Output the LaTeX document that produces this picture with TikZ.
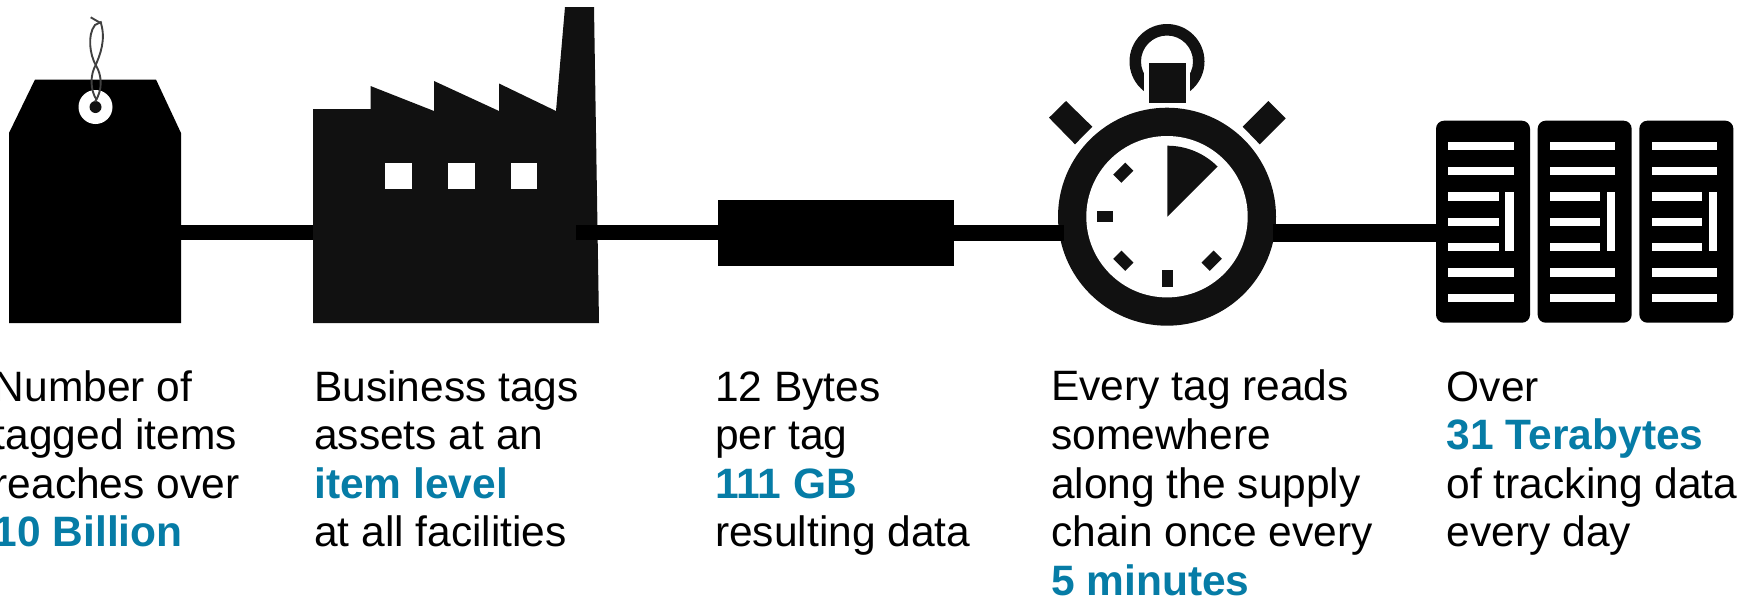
\documentclass[tikz,border=0pt]{standalone}
\usepackage{fontspec}
\setmainfont{Liberation Sans}
\definecolor{inkA}{HTML}{000000}
\definecolor{inkB}{HTML}{111111}
\definecolor{tealhl}{HTML}{067CA6}
\newcommand{\hl}[1]{\textcolor{tealhl}{\textbf{#1}}}
\tikzset{
  caption/.style={anchor=base west,align=left,inner sep=0pt,font=\fontsize{42.5}{48.6}\selectfont},
  databox/.style={fill=inkA,draw=none,inner sep=0pt,minimum width=236pt,minimum height=66pt,shape=rectangle},
  tick/.style={fill=inkB,draw=none,minimum width=17pt,minimum height=11.6pt,inner sep=0pt,shape=rectangle},
  link/.style={draw=inkA,line cap=butt},
  twine/.style={draw=black!75,line width=1.9pt},
}
\begin{document}
\begin{tikzpicture}[x=1pt,y=-1pt]
\useasboundingbox (0,0) rectangle (1748,598);
% anchors for connectors
\coordinate (tagE) at (181,232.5);
\coordinate (factW) at (313,232.5);
\coordinate (factE) at (576,232.5);
\coordinate (boxW) at (718,232.5);
\coordinate (boxE) at (954,232.8);
\coordinate (watchW) at (1064,232.8);
\coordinate (watchE) at (1273,233.2);
\coordinate (rackW) at (1437,233.2);
% tag
\fill[inkA] (9,323) -- (9,133) -- (35,79.5) -- (156,79.5) -- (181,133) -- (181,323) -- cycle;
\fill[white] (95.5,107) circle (17);
\fill[inkB] (95.5,107) circle (6);
\draw[twine] (90.7,17.3) -- (101,23.3) .. controls (106,40) and (100,55) .. (95.7,65) .. controls (90,75) and (90,90) .. (96.7,100);
\draw[twine] (101.7,21.7) -- (95,25) .. controls (87,35) and (90,55) .. (95.7,65) .. controls (102,75) and (103,90) .. (95,101.7);
% factory
\fill[inkB] (313,109) -- (370.5,109) -- (370.5,86) -- (434,111) -- (434,81) -- (499,111) -- (499,83.5) -- (556,111) -- (565,7) -- (594,7) -- (599,323) -- (313,323) -- cycle;
\foreach \wx in {385.3,448,510.7}
  \fill[white] (\wx,163) rectangle ++(26.7,26.3);
% data box
\node[databox] (box) at (836,233) {};
% stopwatch
\fill[inkB,even odd rule] (1167,61.5) circle (37.5) (1167,61.5) circle (26);
\fill[white] (1144.3,60) rectangle (1190,95);
\fill[inkB] (1149,63) rectangle (1186,103);
\fill[inkB] (1066,101) -- (1092.3,126.7) -- (1075,144.3) -- (1049,117.7) -- cycle;
\fill[inkB] (1268.3,101) -- (1285.7,118.3) -- (1259.7,144.3) -- (1242.7,126.7) -- cycle;
\fill[inkB] (1167,216.7) circle (109);
\fill[white] (1167,216.7) circle (80.7);
\fill[inkB] (1167.3,216.7) -- (1167.3,145.7) arc[start angle=270,end angle=315,radius=71] -- cycle;
\fill[inkB] (1096.7,211) rectangle (1113.3,222.3);
\fill[inkB] (1161.7,270.3) rectangle (1173.3,287.3);
\node[tick,rotate=45] (tickA) at (1123.3,172.7) {};
\node[tick,rotate=-45] (tickB) at (1123.3,260.7) {};
\node[tick,rotate=45] (tickC) at (1211.7,260.7) {};
% servers
\foreach \dx in {0,101.67,203.33}{
  \fill[inkA,rounded corners=8pt] (1436+\dx,120.7) rectangle (1530+\dx,322.7);
  \foreach \k in {0,1,5,6}
    \fill[white] (1448.3+\dx,141.7+25.33*\k) rectangle ++(65.4,8.3);
  \foreach \k in {2,3,4}
    \fill[white] (1448.3+\dx,141.7+25.33*\k) rectangle ++(50.4,8.3);
  \fill[white] (1505.3+\dx,192.3) rectangle (1513.7+\dx,251.3);
}
% connectors
\draw[link,line width=15pt] (tagE) -- (factW);
\draw[link,line width=15pt] (factE) -- (boxW);
\draw[link,line width=15.5pt] (boxE) -- (watchW);
\draw[link,line width=18.5pt] (watchE) -- (rackW);
% captions
\node[caption] (capA) at (-6.5,546.9) {Number of\\tagged items\\reaches over\\\hl{10 Billion}};
\node[caption] (capB) at (314,546.9) {Business tags\\assets at an\\\hl{item level}\\at all facilities};
\node[caption] (capC) at (715,546.9) {12 Bytes\\per tag\\\hl{111 GB}\\resulting data};
\node[caption] (capD) at (1051,595.3) {Every tag reads\\somewhere\\along the supply\\chain once every\\\hl{5 minutes}};
\node[caption] (capE) at (1446.5,546.9) {Over\\\hl{31 Terabytes}\\of tracking data\\every day};
\end{tikzpicture}
\end{document}
